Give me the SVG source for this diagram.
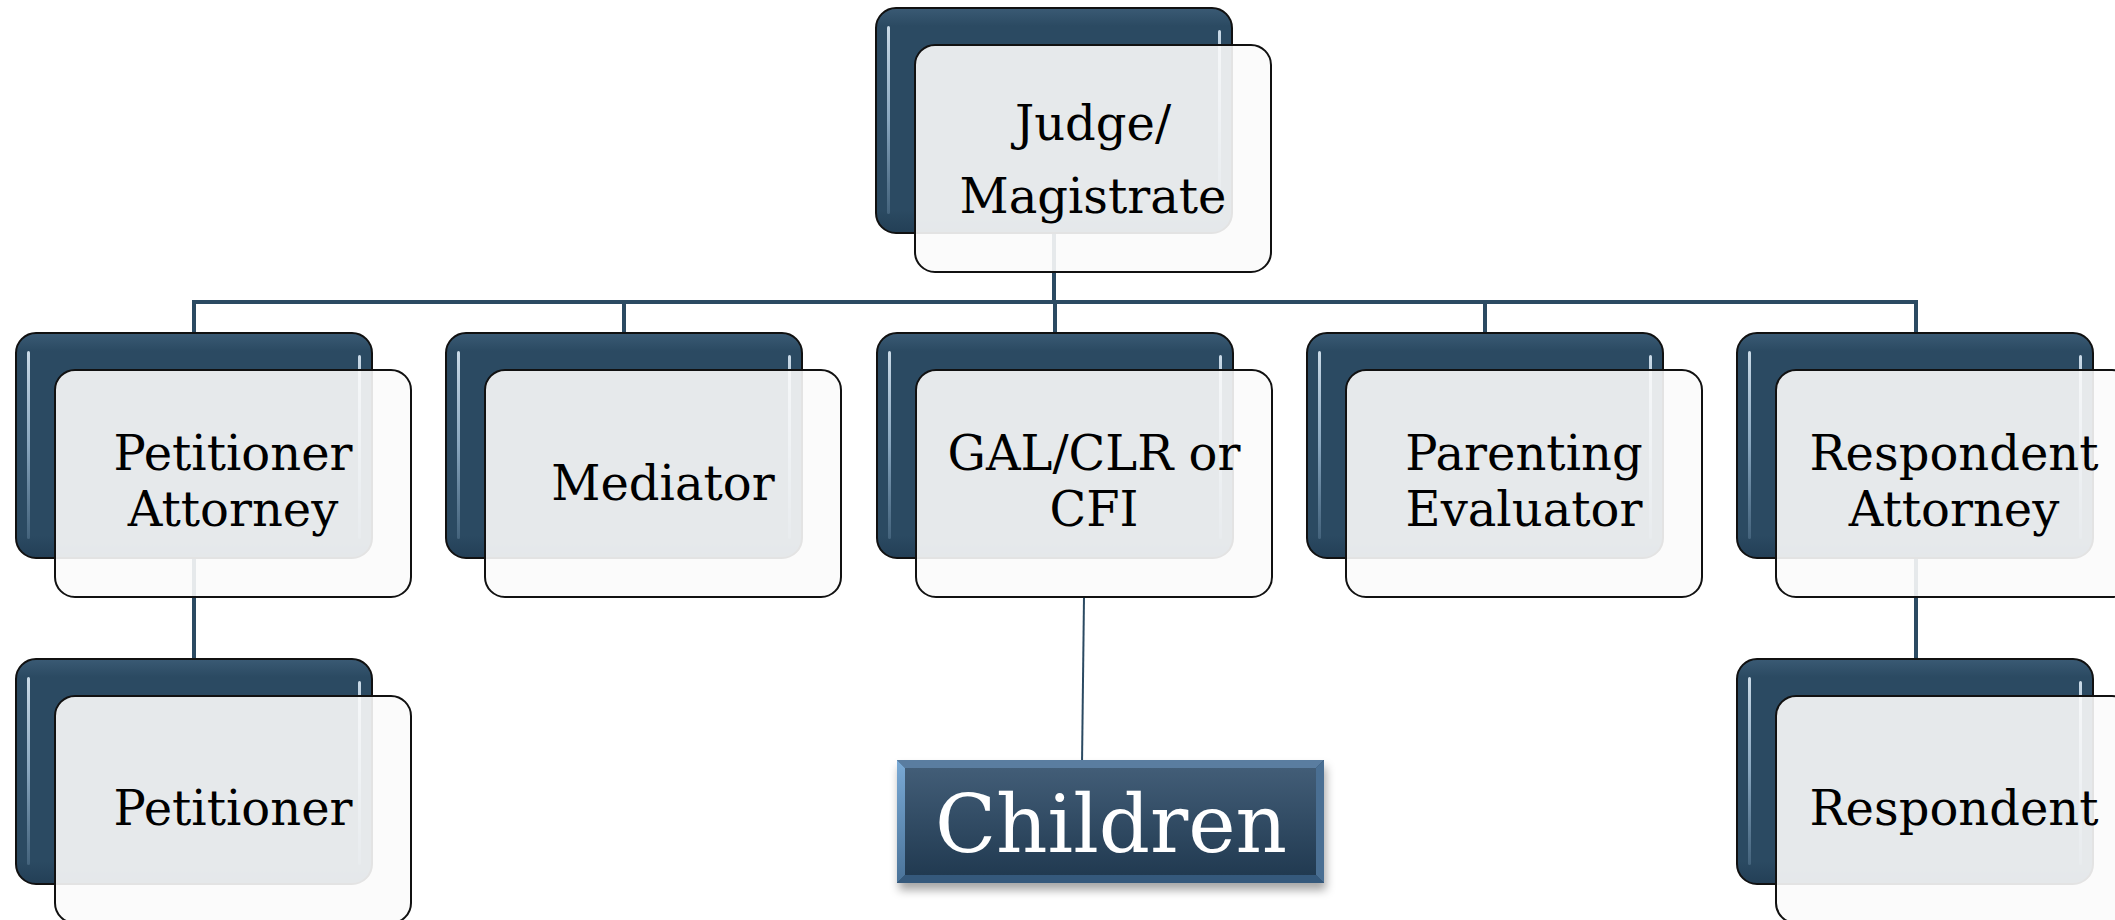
<svg xmlns="http://www.w3.org/2000/svg" xmlns:xlink="http://www.w3.org/1999/xlink" width="2115" height="920" viewBox="0 0 2115 920">
  <defs>
    <style>
      .dark { fill: url(#darkGrad); stroke: #111; stroke-width: 2; }
      .light { fill: #fbfbfb; fill-opacity: 0.9; stroke: #111; stroke-width: 2; }
      .hl { fill: url(#hlGrad); }
      .lbl { font-family: "DejaVu Serif", "Liberation Serif", serif; font-size: 48px; fill: #000; text-anchor: middle; }
      .conn { stroke: #2b4a62; stroke-width: 4; fill: none; }
      .conn-thin { stroke: #2b4a62; stroke-width: 2; fill: none; }
      .child-lbl { font-family: "DejaVu Serif", "Liberation Serif", serif; font-size: 80px; fill: #fff; text-anchor: middle; }
    </style>
    <linearGradient id="darkGrad" x1="0" y1="0" x2="0" y2="1">
      <stop offset="0" stop-color="#3a5a74"/>
      <stop offset="0.08" stop-color="#2b4a62"/>
      <stop offset="0.9" stop-color="#2b4a62"/>
      <stop offset="1" stop-color="#233f56"/>
    </linearGradient>
    <linearGradient id="hlGrad" x1="0" y1="0" x2="0" y2="1">
      <stop offset="0" stop-color="#d4e3ef" stop-opacity="0.95"/>
      <stop offset="0.5" stop-color="#9ab7cf" stop-opacity="0.85"/>
      <stop offset="1" stop-color="#7f9fba" stop-opacity="0.3"/>
    </linearGradient>
    <linearGradient id="childGrad" x1="0" y1="0" x2="0" y2="1">
      <stop offset="0" stop-color="#425d77"/>
      <stop offset="1" stop-color="#213a51"/>
    </linearGradient>
    <linearGradient id="childLeft" x1="0" y1="0" x2="0" y2="1">
      <stop offset="0" stop-color="#7aaad6"/>
      <stop offset="1" stop-color="#4a7399"/>
    </linearGradient>
    <filter id="shadow" x="-10%" y="-20%" width="120%" height="160%">
      <feDropShadow dx="2" dy="7" stdDeviation="5" flood-color="#000" flood-opacity="0.35"/>
    </filter>
    <g id="card">
      <rect class="dark" x="0" y="0" width="356" height="225" rx="20" ry="20"/>
      <rect class="hl" x="11" y="18" width="3" height="188" rx="1.5"/>
      <rect class="hl" x="342" y="22" width="3" height="184" rx="1.5"/>
      <rect class="light" x="39" y="37" width="356" height="227" rx="20" ry="20"/>
    </g>
  </defs>

  <rect x="0" y="0" width="2115" height="920" fill="#ffffff"/>

  <g id="connectors">
    <line class="conn" x1="1054" y1="225" x2="1054" y2="302"/>
    <line class="conn" x1="192" y1="302" x2="1918" y2="302"/>
    <line class="conn" x1="194" y1="300" x2="194" y2="335"/>
    <line class="conn" x1="624" y1="300" x2="624" y2="335"/>
    <line class="conn" x1="1055" y1="300" x2="1055" y2="335"/>
    <line class="conn" x1="1485" y1="300" x2="1485" y2="335"/>
    <line class="conn" x1="1916" y1="300" x2="1916" y2="335"/>
    <line class="conn" x1="194" y1="550" x2="194" y2="661"/>
    <line class="conn" x1="1916" y1="550" x2="1916" y2="661"/>
    <line class="conn-thin" x1="1084" y1="597" x2="1082" y2="764"/>
  </g>

  <g id="node-judge">
    <use href="#card" x="876" y="8"/>
    <text class="lbl" x="1093" y="140">Judge/</text>
    <text class="lbl" x="1093" y="213">Magistrate</text>
  </g>

  <g id="node-petitioner-attorney">
    <use href="#card" x="16" y="333"/>
    <text class="lbl" x="233" y="470">Petitioner</text>
    <text class="lbl" x="233" y="526">Attorney</text>
  </g>

  <g id="node-mediator">
    <use href="#card" x="446" y="333"/>
    <text class="lbl" x="663" y="500">Mediator</text>
  </g>

  <g id="node-gal">
    <use href="#card" x="877" y="333"/>
    <text class="lbl" x="1094" y="470">GAL/CLR or</text>
    <text class="lbl" x="1094" y="526">CFI</text>
  </g>

  <g id="node-parenting-evaluator">
    <use href="#card" x="1307" y="333"/>
    <text class="lbl" x="1524" y="470">Parenting</text>
    <text class="lbl" x="1524" y="526">Evaluator</text>
  </g>

  <g id="node-respondent-attorney">
    <use href="#card" x="1737" y="333"/>
    <text class="lbl" x="1954" y="470">Respondent</text>
    <text class="lbl" x="1954" y="526">Attorney</text>
  </g>

  <g id="node-petitioner">
    <use href="#card" x="16" y="659"/>
    <text class="lbl" x="233" y="825">Petitioner</text>
  </g>

  <g id="node-respondent">
    <use href="#card" x="1737" y="659"/>
    <text class="lbl" x="1954" y="825">Respondent</text>
  </g>

  <g id="node-children">
    <g filter="url(#shadow)">
      <rect x="897" y="760" width="427" height="123" fill="#2b4a62"/>
    </g>
    <rect x="905" y="768" width="411" height="107" fill="url(#childGrad)"/>
    <polygon points="897,760 1324,760 1316,768 905,768" fill="#5a7da0"/>
    <polygon points="897,760 905,768 905,875 897,883" fill="url(#childLeft)"/>
    <polygon points="1324,760 1316,768 1316,875 1324,883" fill="#4a6f93"/>
    <polygon points="897,883 905,875 1316,875 1324,883" fill="#35597c"/>
    <text class="child-lbl" x="1111" y="852">Children</text>
  </g>
</svg>
